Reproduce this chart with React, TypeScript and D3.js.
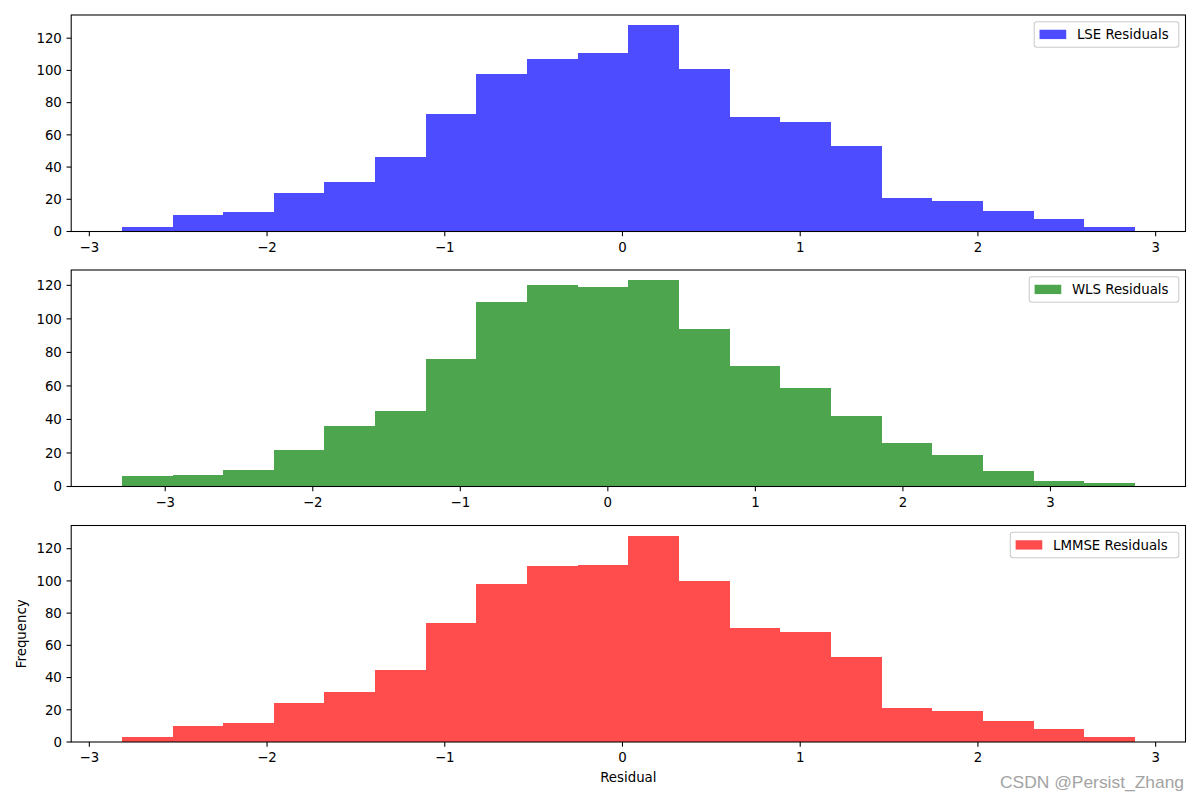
import React from "react";
import * as d3 from "d3";

// ---- data ----
const lseCounts = [3, 10, 12, 24, 31, 46, 73, 98, 107, 111, 128, 101, 71, 68, 53, 21, 19, 13, 8, 3];
const lseRange: [number, number] = [-2.817, 2.883];
const wlsCounts = [6, 7, 10, 22, 36, 45, 76, 110, 120, 119, 123, 94, 72, 59, 42, 26, 19, 9, 3, 2];
const wlsRange: [number, number] = [-3.294, 3.572];
const lmmseCounts = [3, 10, 12, 24, 31, 45, 74, 98, 109, 110, 128, 100, 71, 68, 53, 21, 19, 13, 8, 3];
const lmmseRange: [number, number] = [-2.817, 2.883];
const seriesLabels = ["LSE Residuals", "WLS Residuals", "LMMSE Residuals"];
const xTickValues = [-3, -2, -1, 0, 1, 2, 3];
const yTickValues = [0, 20, 40, 60, 80, 100, 120];
const xAxisLabel = "Residual";
const yAxisLabel = "Frequency";
const watermark = "CSDN @Persist_Zhang";

const FONT = "DejaVu Sans, sans-serif";
const FS = 13.33;
const LEFT = 71.2;
const RIGHT = 1185.5;
const TOPS = [15, 270, 525.5];
const HEIGHT = 216.5;
const TICK = 4.67;

function measure(text: string): number {
  try {
    const c = document.createElement("canvas").getContext("2d");
    if (c) {
      c.font = `${FS}px DejaVu Sans`;
      return c.measureText(text).width;
    }
  } catch (e) {}
  return text.length * 8;
}

function fmt(v: number): string {
  return v < 0 ? "\u2212" + Math.abs(v) : String(v);
}

type PanelProps = {
  counts: number[];
  range: [number, number];
  color: string;
  label: string;
  top: number;
};

function Panel({ counts, range, color, label, top }: PanelProps) {
  const n = counts.length;
  const w = range[1] - range[0];
  const edges = d3.range(n + 1).map((i) => range[0] + (i * w) / n);
  const x = d3
    .scaleLinear()
    .domain([range[0] - 0.05 * w, range[1] + 0.05 * w])
    .range([LEFT, RIGHT]);
  const maxC = d3.max(counts) as number;
  const bottom = top + HEIGHT;
  const y = d3.scaleLinear().domain([0, maxC * 1.05]).range([bottom, top]);

  const tw = measure(label) * 1.04;
  const boxRight = RIGHT - 6.67;
  const boxW = 5.33 + 26.67 + 10.67 + tw + 6.5;
  const boxLeft = boxRight - boxW;
  const boxTop = top + 6.67;
  const boxH = 25.5;
  const cy = boxTop + boxH / 2;

  return (
    <g>
      {counts.map((c, i) => (
        <rect
          key={i}
          x={x(edges[i])}
          width={x(edges[i + 1]) - x(edges[i])}
          y={y(c)}
          height={y(0) - y(c)}
          fill={color}
          shapeRendering="crispEdges"
        />
      ))}
      <rect x={LEFT} y={top} width={RIGHT - LEFT} height={HEIGHT} fill="none" stroke="#000" strokeWidth={1.07} />
      {xTickValues.map((t) => (
        <g key={"x" + t}>
          <line x1={x(t)} x2={x(t)} y1={bottom} y2={bottom + TICK} stroke="#000" strokeWidth={1.07} />
          <text
            x={x(t)}
            y={bottom + TICK + 4.67 + 10.8}
            textAnchor="middle"
            fontFamily={FONT}
            fontSize={FS}
            fill="#000"
          >
            {fmt(t)}
          </text>
        </g>
      ))}
      {yTickValues.map((t) => (
        <g key={"y" + t}>
          <line x1={LEFT - TICK} x2={LEFT} y1={y(t)} y2={y(t)} stroke="#000" strokeWidth={1.07} />
          <text
            x={LEFT - TICK - 4.67}
            y={y(t) + 4.8}
            textAnchor="end"
            fontFamily={FONT}
            fontSize={FS}
            fill="#000"
          >
            {t}
          </text>
        </g>
      ))}
      <rect
        x={boxLeft}
        y={boxTop}
        width={boxW}
        height={boxH}
        rx={2.67}
        fill="#fff"
        fillOpacity={0.8}
        stroke="#cccccc"
        strokeWidth={1.07}
      />
      <rect x={boxLeft + 5.33} y={cy - 4.67} width={26.67} height={9.33} fill={color} />
      <text x={boxLeft + 42.67} y={cy + 4.8} fontFamily={FONT} fontSize={FS} fill="#000">
        {label}
      </text>
    </g>
  );
}

export default function App() {
  const colors = ["#4d4dff", "#4da64d", "#ff4d4d"];
  const data = [
    { counts: lseCounts, range: lseRange },
    { counts: wlsCounts, range: wlsRange },
    { counts: lmmseCounts, range: lmmseRange },
  ];
  const lastTop = TOPS[2];
  return (
    <svg
      width={1200}
      height={800}
      style={{ position: "absolute", left: 0, top: 0, background: "#fff" }}
    >
      <rect x={0} y={0} width={1200} height={800} fill="#fff" />
      {data.map((d, i) => (
        <Panel
          key={i}
          counts={d.counts}
          range={d.range}
          color={colors[i]}
          label={seriesLabels[i]}
          top={TOPS[i]}
        />
      ))}
      <text
        x={(LEFT + RIGHT) / 2}
        y={782}
        textAnchor="middle"
        fontFamily={FONT}
        fontSize={FS}
        fill="#000"
      >
        {xAxisLabel}
      </text>
      <text
        transform={`translate(26,${lastTop + HEIGHT / 2}) rotate(-90)`}
        textAnchor="middle"
        fontFamily={FONT}
        fontSize={FS}
        fill="#000"
      >
        {yAxisLabel}
      </text>
      <text
        x={1184}
        y={788}
        textAnchor="end"
        fontFamily="Liberation Sans, sans-serif"
        fontSize={17}
        fill="#a3a3a3"
        textLength={184}
        lengthAdjust="spacingAndGlyphs"
      >
        {watermark}
      </text>
    </svg>
  );
}
